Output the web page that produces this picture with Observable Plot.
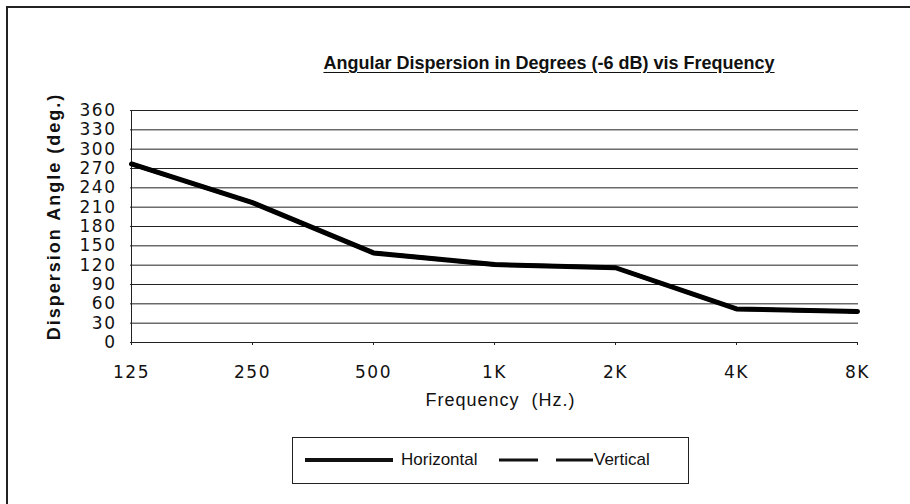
<!DOCTYPE html>
<html>
<head>
<meta charset="utf-8">
<script src="https://cdn.jsdelivr.net/npm/d3@7"></script>
<script src="https://cdn.jsdelivr.net/npm/@observablehq/plot@0.6"></script>
<style>
  html, body { margin: 0; padding: 0; background: #fff; }
  body { width: 910px; height: 504px; overflow: hidden; position: relative; font-family: "Liberation Sans", Arial, sans-serif; }
  #frame { position: absolute; left: 6px; top: 6px; width: 1200px; height: 600px; border-left: 2px solid #222; border-top: 2px solid #222; }
  #title { position: absolute; left: 0; width: 1098px; top: 53px; text-align: center; white-space: nowrap;
           font-family: "Liberation Sans Narrow", "Liberation Sans", Arial, sans-serif; font-weight: bold; font-size: 18px;
           text-decoration: underline; text-underline-offset: 3px; color: #111; }
  #chart { position: absolute; left: 0; top: 90px; }
  #chart svg text { fill: #111; }
  #legend { position: absolute; left: 292px; top: 437px; width: 397px; height: 47px; border: 1px solid #222; box-sizing: border-box; }
  #legend svg { position: absolute; left: 0; top: 0; }
  .lg { position: absolute; top: 12px; font-size: 17px; color: #111; }
</style>
</head>
<body>
<div id="frame"></div>
<div id="title">Angular Dispersion in Degrees (-6 dB) vis Frequency</div>
<div id="chart"></div>
<div id="legend">
  <svg width="397" height="47">
    <line x1="12" x2="100" y1="22" y2="22" stroke="#111" stroke-width="4"></line>
    <line x1="206" x2="300" y1="22" y2="22" stroke="#111" stroke-width="3" stroke-dasharray="39,18"></line>
  </svg>
  <span class="lg" style="left:108px">Horizontal</span>
  <span class="lg" style="left:301px">Vertical</span>
</div>
<script>
const freqs = ["125", "250", "500", "1K", "2K", "4K", "8K"];
const horizontal = [277, 217, 139, 121, 116, 52, 48];
const vertical = [277, 217, 139, 121, 116, 52, 48];
const yTicks = [0, 30, 60, 90, 120, 150, 180, 210, 240, 270, 300, 330, 360];

const hData = freqs.map((f, i) => ({freq: f, value: horizontal[i]}));
const vData = freqs.map((f, i) => ({freq: f, value: vertical[i]}));

const chart = Plot.plot({
  width: 910,
  height: 330,
  marginTop: 20,
  marginBottom: 78,
  marginLeft: 130,
  marginRight: 52,
  style: {fontFamily: "'DejaVu Sans', sans-serif", fontSize: "17px", background: "transparent"},
  x: {type: "point", domain: freqs, padding: 0},
  y: {domain: [0, 360]},
  marks: [
    Plot.ruleY(yTicks, {stroke: "#222", strokeWidth: 1}),
    Plot.ruleX([freqs[0]], {stroke: "#222", strokeWidth: 1}),
    Plot.axisY({ticks: yTicks, tickSize: 0, tickPadding: 14, label: null, fontSize: 17}),
    Plot.axisX({tickSize: 3, tickPadding: 20, label: null, fontSize: 17, stroke: "#222"}),
    Plot.text(["Dispersion Angle (deg.)"], {frameAnchor: "left", dx: -76, dy: -10, rotate: -90, fontWeight: "bold",
      fontSize: 18, fontFamily: "'Liberation Sans', Arial, sans-serif", textAnchor: "middle", lineAnchor: "middle"}),
    Plot.text(["Frequency  (Hz.)"], {frameAnchor: "bottom", dx: 6, dy: 58, fontSize: 18,
      fontFamily: "'Liberation Sans', Arial, sans-serif", textAnchor: "middle", lineAnchor: "middle"}),
    Plot.line(vData, {x: "freq", y: "value", stroke: "#111", strokeWidth: 4, strokeDasharray: "39,18"}),
    Plot.line(hData, {x: "freq", y: "value", stroke: "#000", strokeWidth: 5, strokeLinejoin: "miter"})
  ]
});
d3.select(chart).selectAll("g[aria-label='y-axis tick label'] text, g[aria-label='x-axis tick label'] text")
  .attr("letter-spacing", "1.5px");
d3.select(chart).selectAll("g[aria-label='text'] text")
  .filter(function() { return this.textContent.startsWith("Dispersion"); })
  .attr("letter-spacing", "2px");
d3.select(chart).selectAll("g[aria-label='text'] text")
  .filter(function() { return this.textContent.startsWith("Frequency"); })
  .attr("letter-spacing", "1px");
document.getElementById("chart").appendChild(chart);
</script>
</body>
</html>
